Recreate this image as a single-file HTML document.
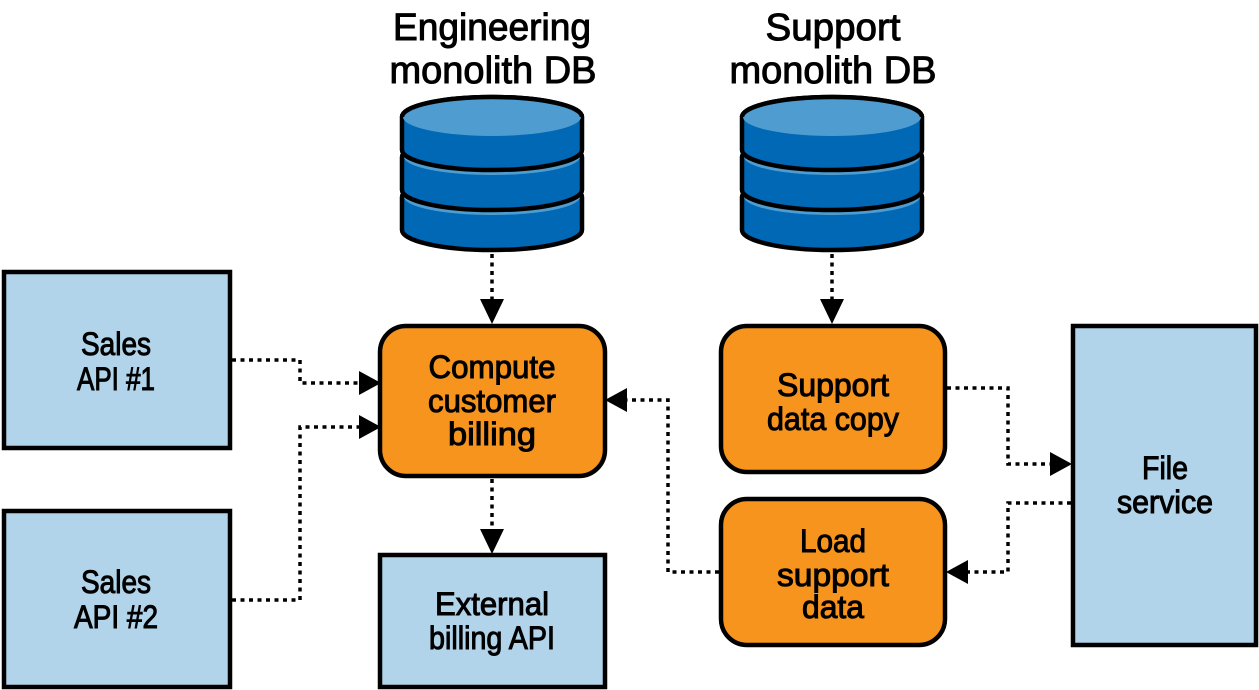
<!DOCTYPE html>
<html><head><meta charset="utf-8"><style>
html,body{margin:0;padding:0;background:#fff;}
svg{display:block;}
text{font-family:"Liberation Sans",sans-serif;fill:#000;stroke:#000;stroke-width:1;text-anchor:middle;}
</style></head><body>
<svg width="1259" height="690" viewBox="0 0 1259 690" xmlns="http://www.w3.org/2000/svg">
<defs>
<g id="db">
  <path d="M-90,197 A90,20 0 0 1 90,197 L90,230 A90,20 0 0 1 -90,230 Z" fill="#0068b5" stroke="#000" stroke-width="4.5"/>
  <ellipse cx="0" cy="197" rx="88" ry="18" fill="#4f9dd0"/>
  <path d="M-90,157 A90,20 0 0 1 90,157 L90,190 A90,20 0 0 1 -90,190 Z" fill="#0068b5" stroke="#000" stroke-width="4.5"/>
  <ellipse cx="0" cy="157" rx="88" ry="18" fill="#4f9dd0"/>
  <path d="M-90,117 A90,20 0 0 1 90,117 L90,150 A90,20 0 0 1 -90,150 Z" fill="#0068b5" stroke="#000" stroke-width="4.5"/>
  <ellipse cx="0" cy="117" rx="89" ry="19" fill="#4f9dd0"/>
  <path d="M-90,117 A90,20 0 0 1 90,117" fill="none" stroke="#000" stroke-width="4.5"/>
</g>
</defs>

<text x="492" y="40" font-size="38" textLength="198" lengthAdjust="spacingAndGlyphs">Engineering</text>
<text x="493" y="83" font-size="38" textLength="207" lengthAdjust="spacingAndGlyphs">monolith DB</text>
<text x="833" y="40" font-size="38" textLength="135" lengthAdjust="spacingAndGlyphs">Support</text>
<text x="833" y="83" font-size="38" textLength="207" lengthAdjust="spacingAndGlyphs">monolith DB</text>

<use href="#db" x="492" y="0"/>
<use href="#db" x="832" y="0"/>

<g stroke="#000" stroke-width="4.5">
<rect x="4" y="272" width="226" height="176" fill="#b1d4ea"/>
<rect x="4" y="511" width="226" height="176" fill="#b1d4ea"/>
<rect x="380" y="555" width="225" height="132" fill="#b1d4ea"/>
<rect x="1073" y="326" width="183" height="319" fill="#b1d4ea"/>
<rect x="380" y="326" width="225" height="150" rx="26" fill="#f7941d"/>
<rect x="721" y="326" width="224" height="146" rx="26" fill="#f7941d"/>
<rect x="721" y="499" width="224" height="146" rx="26" fill="#f7941d"/>
</g>

<g fill="none" stroke="#000" stroke-width="3.5" stroke-dasharray="4 4.5">
<path d="M492,254 V300"/>
<path d="M832,254 V300"/>
<path d="M232,360 H300 V383 H360"/>
<path d="M232,600 H300 V427 H360"/>
<path d="M492,479 V530"/>
<path d="M719,572 H668 V400 H626"/>
<path d="M947,388 H1008 V464 H1052"/>
<path d="M1071,503 H1008 V572 H967"/>
</g>
<g fill="#000">
<path d="M480,299 L504,299 L492,324 Z"/>
<path d="M820,299 L844,299 L832,324 Z"/>
<path d="M359,371 L359,395 L381,383 Z"/>
<path d="M359,415 L359,439 L381,427 Z"/>
<path d="M480,529 L504,529 L492,554 Z"/>
<path d="M627,388 L627,412 L605,400 Z"/>
<path d="M1050,452 L1050,476 L1072,464 Z"/>
<path d="M968,560 L968,584 L946,572 Z"/>
</g>

<g font-size="32">
<text x="116" y="355" textLength="70" lengthAdjust="spacingAndGlyphs">Sales</text>
<text x="116" y="390" textLength="78" lengthAdjust="spacingAndGlyphs">API #1</text>
<text x="116" y="593" textLength="70" lengthAdjust="spacingAndGlyphs">Sales</text>
<text x="116" y="628" textLength="84" lengthAdjust="spacingAndGlyphs">API #2</text>
<text x="492" y="378" textLength="127" lengthAdjust="spacingAndGlyphs">Compute</text>
<text x="492" y="412" textLength="128" lengthAdjust="spacingAndGlyphs">customer</text>
<text x="492" y="445" textLength="88" lengthAdjust="spacingAndGlyphs">billing</text>
<text x="492" y="615" textLength="114" lengthAdjust="spacingAndGlyphs">External</text>
<text x="492" y="649" textLength="126" lengthAdjust="spacingAndGlyphs">billing API</text>
<text x="833" y="396" textLength="112" lengthAdjust="spacingAndGlyphs">Support</text>
<text x="833" y="430" textLength="132" lengthAdjust="spacingAndGlyphs">data copy</text>
<text x="833" y="552" textLength="66" lengthAdjust="spacingAndGlyphs">Load</text>
<text x="833" y="586" textLength="112" lengthAdjust="spacingAndGlyphs">support</text>
<text x="833" y="618" textLength="62" lengthAdjust="spacingAndGlyphs">data</text>
<text x="1165" y="479" textLength="46" lengthAdjust="spacingAndGlyphs">File</text>
<text x="1165" y="513" textLength="96" lengthAdjust="spacingAndGlyphs">service</text>
</g>
</svg>
</body></html>
